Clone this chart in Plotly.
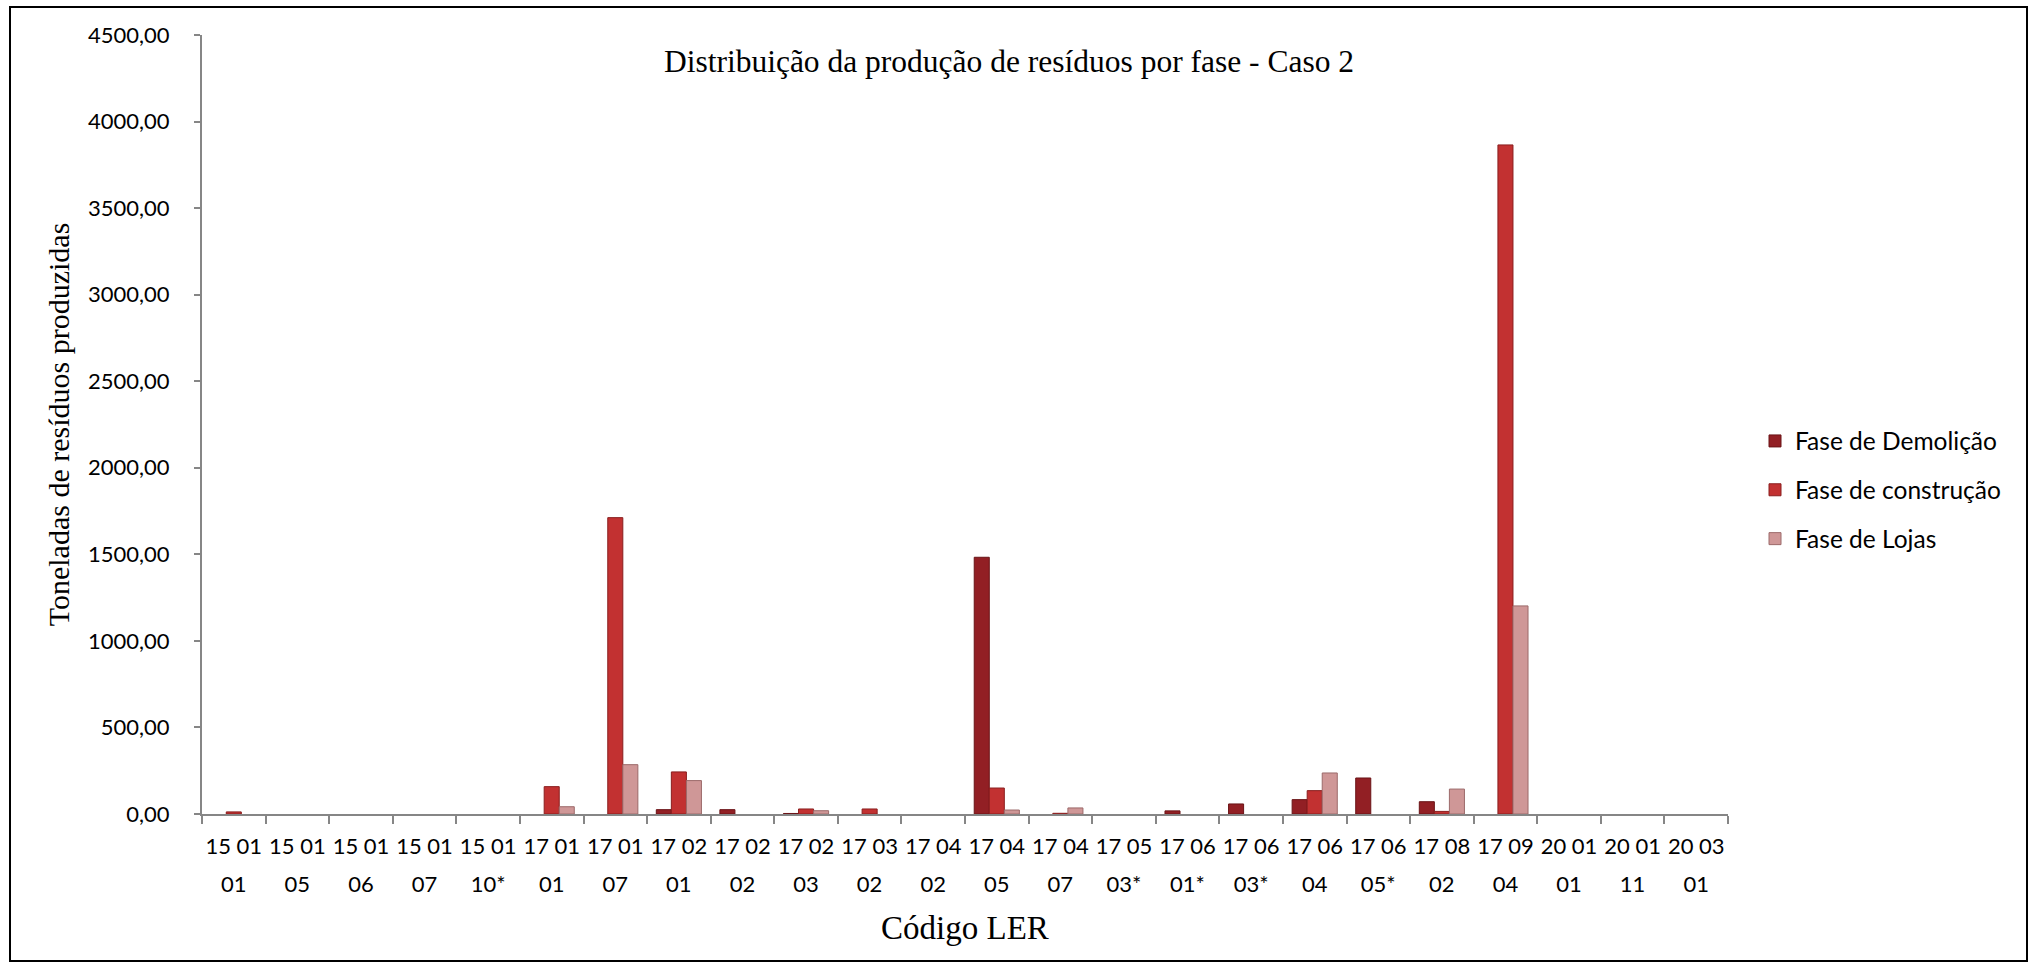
import plotly.graph_objects as go

code_top = ["15 01", "15 01", "15 01", "15 01", "15 01",
            "17 01", "17 01", "17 02", "17 02", "17 02",
            "17 03", "17 04", "17 04", "17 04", "17 05",
            "17 06", "17 06", "17 06", "17 06", "17 08",
            "17 09", "20 01", "20 01", "20 03"]
code_bottom = ["01", "05", "06", "07", "10*",
               "01", "07", "01", "02", "03",
               "02", "02", "05", "07", "03*",
               "01*", "03*", "04", "05*", "02",
               "04", "01", "11", "01"]
categories = [f"{a} {b}" for a, b in zip(code_top, code_bottom)]

demolicao = [0, 0, 0, 0, 0, 0, 0, 25, 25, 3, 0, 0, 1483, 0, 0, 18, 58, 83, 208, 71, 0, 0, 0, 0]
construcao = [12, 0, 0, 0, 0, 158, 1712, 243, 0, 29, 29, 0, 150, 4, 0, 0, 0, 135, 0, 15, 3865, 0, 0, 0]
lojas = [0, 0, 0, 0, 0, 42, 285, 193, 0, 19, 0, 0, 23, 35, 0, 0, 0, 237, 0, 144, 1202, 0, 0, 0]

series_names = ["Fase de Demolição", "Fase de construção", "Fase de Lojas"]
y_ticks = [0, 500, 1000, 1500, 2000, 2500, 3000, 3500, 4000, 4500]

fill_colors = ["#921F24", "#C23131", "#CF9797"]
line_colors = ["#6A1417", "#8A1E1E", "#9C6A6A"]

fig = go.Figure()
for name, vals, fc, lc in zip(series_names, [demolicao, construcao, lojas], fill_colors, line_colors):
    fig.add_trace(go.Bar(
        x=categories, y=[v if v else None for v in vals], name=name, legendgroup=name,
        marker=dict(color=fc, line=dict(color=lc, width=1)),
    ))

W, H = 2033, 967
L, R, T, B = 202, 305, 35, 153
pw = W - L - R
ph = H - T - B

def px_x(x):
    return (x - L) / pw

def px_y(y):
    return (H - B - y) / ph

fig.update_layout(
    width=W, height=H, autosize=False,
    margin=dict(l=L, r=R, t=T, b=B, pad=0),
    paper_bgcolor="white", plot_bgcolor="white",
    separators=",.",
    barmode="group", bargap=0.29, bargroupgap=0,
    font=dict(family="Lato", size=22, color="black"),
    title=dict(text="Distribuição da produção de resíduos por fase - Caso 2",
               font=dict(family="Liberation Serif", size=31.5, color="black"),
               xref="container", yref="container",
               x=1009 / W, y=1 - 61 / H, xanchor="center", yanchor="middle"),
    legend=dict(font=dict(family="Lato", size=24.5, color="black"),
                x=px_x(1755), y=px_y(490), xanchor="left", yanchor="middle",
                bgcolor="rgba(0,0,0,0)", tracegroupgap=14, itemclick=False),
    showlegend=True,
    xaxis=dict(
        type="category", categoryarray=categories, categoryorder="array",
        tickmode="array", tickvals=categories, ticktext=code_top,
        showline=True, linecolor="#868686", linewidth=2,
        ticks="outside", ticklen=8, tickcolor="#868686", tickwidth=2,
        tickson="boundaries", showgrid=False, zeroline=False, tickangle=0,
        tickfont=dict(family="Lato", size=22, color="black"),
        ticklabelstandoff=12,
    ),
    xaxis2=dict(
        overlaying="x", anchor="y", side="bottom", type="linear",
        range=[-0.5, len(categories) - 0.5],
        tickmode="array", tickvals=list(range(len(categories))), ticktext=code_bottom,
        showline=False, ticks="", showgrid=False, zeroline=False, tickangle=0,
        tickfont=dict(family="Lato", size=22, color="black"),
        ticklabelstandoff=55,
        title=dict(text="Código LER", standoff=19,
                   font=dict(family="Liberation Serif", size=33, color="black")),
    ),
    yaxis=dict(
        range=[0, 4500], tickvals=y_ticks, tickformat=".2f",
        showline=True, linecolor="#868686", linewidth=2,
        ticks="outside", ticklen=6, tickcolor="#868686", tickwidth=2,
        showgrid=False, zeroline=False,
        tickfont=dict(family="Lato", size=22, color="black"),
        ticklabelstandoff=20,
        title=dict(text="Toneladas de resíduos produzidas", standoff=10,
                   font=dict(family="Liberation Serif", size=30, color="black")),
    ),
)

# invisible helper trace so the second label row (xaxis2) is drawn
fig.add_trace(go.Scatter(x=[], y=[], xaxis="x2", yaxis="y", showlegend=False,
                         hoverinfo="skip", mode="markers"))

# chart frame
fig.add_shape(type="rect", xref="paper", yref="paper",
              x0=px_x(10), x1=px_x(2027), y0=px_y(961), y1=px_y(7),
              line=dict(color="black", width=2), fillcolor="rgba(0,0,0,0)", layer="below")

fig.write_html("out.html")
